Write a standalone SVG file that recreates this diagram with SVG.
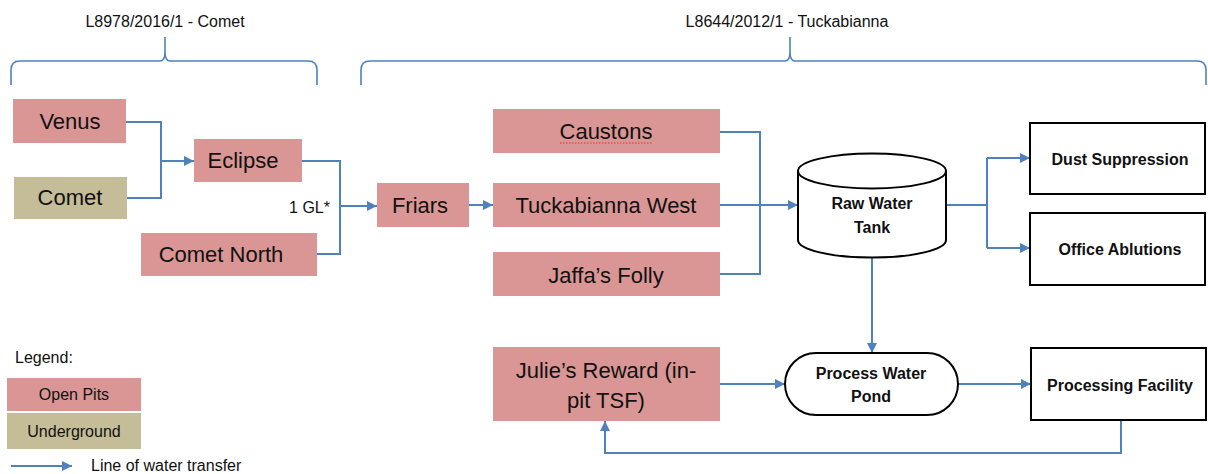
<svg xmlns="http://www.w3.org/2000/svg" width="1208" height="474" viewBox="0 0 1208 474">
<defs>
<marker id="arr" viewBox="0 0 10 10" refX="10" refY="5" markerWidth="11" markerHeight="10" markerUnits="userSpaceOnUse" orient="auto"><path d="M0,0 L10,5 L0,10 z" fill="#4F81BD"/></marker>
<style>
.pit{fill:#D99694;}
.ug{fill:#C4BD97;}
.box{fill:#fff;stroke:#000;stroke-width:2;}
.c{fill:none;stroke:#4F81BD;stroke-width:2;}
.a{marker-end:url(#arr);}
.br{fill:none;stroke:#4F81BD;stroke-width:1.6;}
text{font-family:"Liberation Sans",Arial,sans-serif;fill:#111;}
.n{font-size:22px;text-anchor:middle;}
.b{font-size:16px;font-weight:bold;text-anchor:middle;}
.s{font-size:16px;}
.l{font-size:16px;}
</style>
</defs>
<rect width="1208" height="474" fill="#fff"/>

<g id="brackets">
<path class="br" d="M11,85 L11,70 Q11,61 20,61 L160,61 Q165,61 165,52 L165,37 L165,52 Q165,61 170,61 L308,61 Q317,61 317,70 L317,85"/>
<path class="br" d="M361,85 L361,70 Q361,61 370,61 L785,61 Q790,61 790,52 L790,37 L790,52 Q790,61 795,61 L1197,61 Q1206,61 1206,70 L1206,85"/>
<text class="s" x="165" y="27" text-anchor="middle">L8978/2016/1 - Comet</text>
<text class="s" x="787" y="27" text-anchor="middle">L8644/2012/1 - Tuckabianna</text>
</g>

<g id="connectors">
<path class="c" d="M126,122 H161 V198 H127"/>
<path class="c a" d="M161,161 H194"/>
<path class="c" d="M302,161 H340 V254 H317"/>
<path class="c a" d="M340,206 H377"/>
<path class="c a" d="M469,205 H493"/>
<path class="c" d="M720,132 H760 V274 H720"/>
<path class="c a" d="M720,205 H798"/>
<path class="c" d="M946,205 H987 M987,158 V248"/>
<path class="c a" d="M987,158 H1030"/>
<path class="c a" d="M987,248 H1030"/>
<path class="c a" d="M872,257 V353"/>
<path class="c a" d="M720,384 H785"/>
<path class="c a" d="M958,384 H1031"/>
<path class="c a" d="M1121,420 V453 H605 V421"/>
<text class="s" x="330" y="213" text-anchor="end">1 GL*</text>
</g>

<g id="venus"><rect class="pit" x="13" y="99" width="113" height="44"/><text class="n" x="70" y="129">Venus</text></g>
<g id="comet"><rect class="ug" x="14" y="177" width="113" height="42"/><text class="n" x="70" y="205">Comet</text></g>
<g id="eclipse"><rect class="pit" x="194" y="139" width="108" height="43"/><text class="n" x="243" y="168">Eclipse</text></g>
<g id="comet-north"><rect class="pit" x="141" y="233" width="176" height="43"/><text class="n" x="221" y="262">Comet North</text></g>
<g id="friars"><rect class="pit" x="377" y="183" width="92" height="44"/><text class="n" x="420" y="213">Friars</text></g>
<g id="caustons"><rect class="pit" x="493" y="109" width="227" height="44"/><text class="n" x="606" y="139">Caustons</text><path d="M560,143 H653" stroke="#E03030" stroke-width="1" stroke-dasharray="1.5,1.5" fill="none"/></g>
<g id="tuckabianna-west"><rect class="pit" x="493" y="183" width="227" height="44"/><text class="n" x="606" y="213">Tuckabianna West</text></g>
<g id="jaffas-folly"><rect class="pit" x="493" y="252" width="227" height="44"/><text class="n" x="606" y="283">Jaffa’s Folly</text></g>
<g id="julies-reward"><rect class="pit" x="493" y="347" width="227" height="74"/><text class="n" x="606" y="378">Julie’s Reward (in-</text><text class="n" x="606" y="408">pit TSF)</text></g>

<g id="raw-water-tank">
<path class="box" d="M798,171 V240 A74,17.5 0 0 0 946,240 V171"/>
<ellipse class="box" cx="872" cy="171" rx="74" ry="17.5"/>
<text class="b" x="872" y="209">Raw Water</text>
<text class="b" x="872" y="233">Tank</text>
</g>
<g id="dust-suppression"><rect class="box" x="1030" y="123" width="175" height="71"/><text class="b" x="1120" y="165">Dust Suppression</text></g>
<g id="office-ablutions"><rect class="box" x="1030" y="213" width="175" height="72"/><text class="b" x="1120" y="255">Office Ablutions</text></g>
<g id="process-water-pond"><rect class="box" x="785" y="353" width="173" height="62" rx="31"/><text class="b" x="871" y="379">Process Water</text><text class="b" x="871" y="402">Pond</text></g>
<g id="processing-facility"><rect class="box" x="1031" y="348" width="175" height="72"/><text class="b" x="1120" y="391">Processing Facility</text></g>

<g id="legend">
<text class="l" x="15" y="363">Legend:</text>
<rect class="pit" x="7" y="378" width="134" height="33"/><text class="l" x="74" y="400" text-anchor="middle">Open Pits</text>
<rect class="ug" x="7" y="413" width="134" height="36"/><text class="l" x="74" y="437" text-anchor="middle">Underground</text>
<path class="c a" d="M11,466 H72"/>
<text class="l" x="91" y="471">Line of water transfer</text>
</g>
</svg>
